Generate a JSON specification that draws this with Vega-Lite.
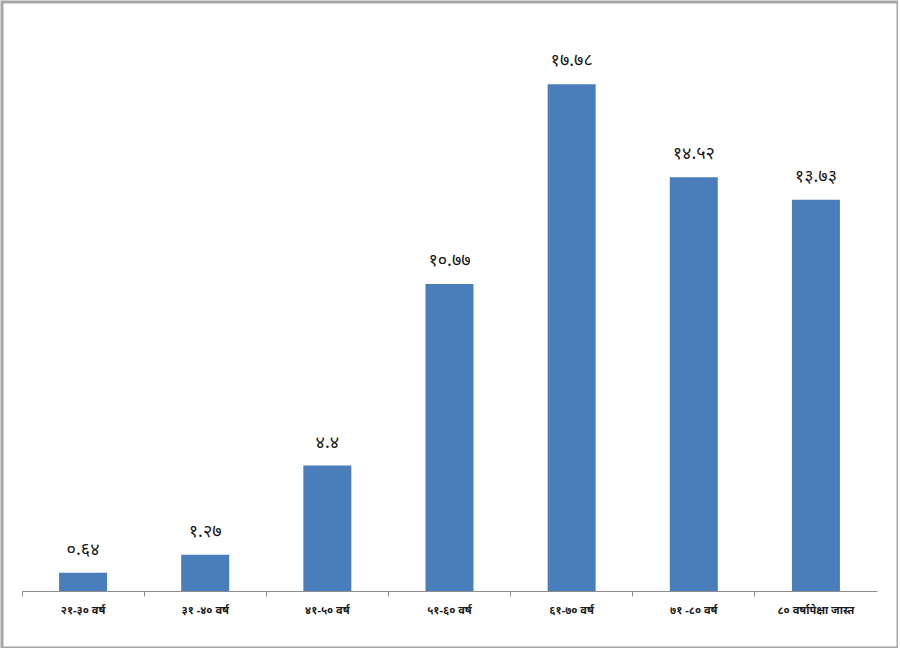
{
  "$schema": "https://vega.github.io/schema/vega-lite/v6.json",
  "width": 896,
  "height": 646,
  "padding": {"left": 2, "top": 2, "right": 0, "bottom": 0},
  "autosize": {"type": "none"},
  "background": "white",
  "config": {
    "view": {"stroke": "#a6a6a6", "strokeWidth": 3},
    "font": "Noto Sans"
  },
  "data": {
    "values": [
      {"group": "२१-३० वर्ष", "value": 0.64, "label": "०.६४"},
      {"group": "३१ -४० वर्ष", "value": 1.27, "label": "१.२७"},
      {"group": "४१-५० वर्ष", "value": 4.4, "label": "४.४"},
      {"group": "५१-६० वर्ष", "value": 10.77, "label": "१०.७७"},
      {"group": "६१-७० वर्ष", "value": 17.78, "label": "१७.७८"},
      {"group": "७१ -८० वर्ष", "value": 14.52, "label": "१४.५२"},
      {"group": "८० वर्षापेक्षा जास्त", "value": 13.73, "label": "१३.७३"}
    ]
  },
  "encoding": {
    "x": {
      "field": "group",
      "type": "nominal",
      "sort": null,
      "title": null,
      "scale": {"range": [20, 875], "paddingInner": 0, "paddingOuter": 0},
      "axis": {
        "orient": "bottom",
        "offset": -57,
        "labelAngle": 0,
        "bandPosition": 0,
        "domainColor": "#8c8c8c",
        "tickColor": "#8c8c8c",
        "tickSize": 5,
        "labelPadding": 8,
        "labelFontSize": 11,
        "labelFontWeight": "bold",
        "labelColor": "#1a1a1a",
        "labelAlign": "center",
        "labelBaseline": "top"
      }
    },
    "y": {
      "field": "value",
      "type": "quantitative",
      "scale": {"domain": [0, 20], "range": [589, 19], "nice": false},
      "axis": null
    }
  },
  "layer": [
    {
      "mark": {"type": "bar", "color": "#4A7EBB", "width": {"band": 0.393}}
    },
    {
      "mark": {"type": "text", "baseline": "bottom", "dy": -14, "fontSize": 18, "color": "#1a1a1a"},
      "encoding": {"text": {"field": "label"}, "x": {"field": "group", "type": "nominal", "sort": null, "bandPosition": 0.5}}
    }
  ]
}
